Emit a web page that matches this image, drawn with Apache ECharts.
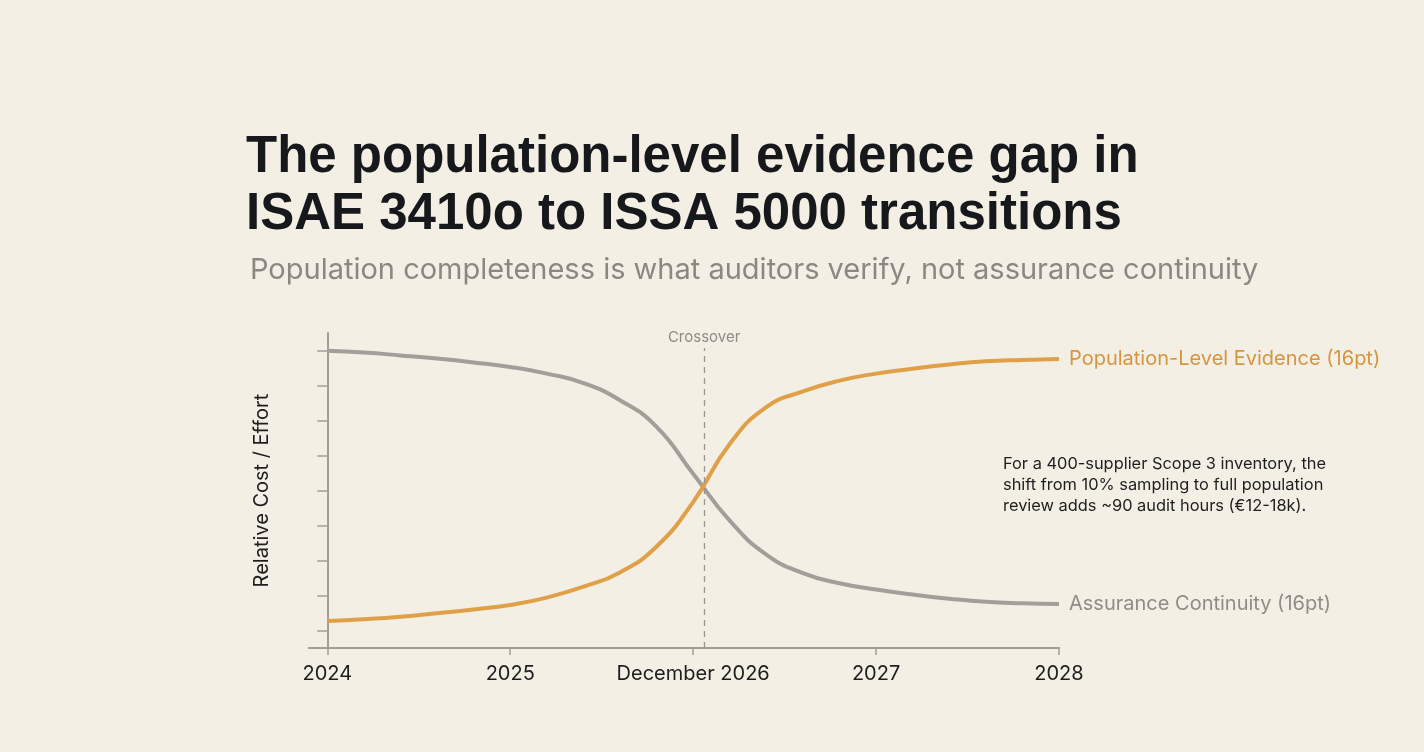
<!DOCTYPE html>
<html>
<head>
<meta charset="utf-8">
<script src="https://cdn.jsdelivr.net/npm/echarts@6/dist/echarts.min.js"></script>
<style>
  html, body { margin: 0; padding: 0; background: #f3efe5; }
  #chart { width: 1424px; height: 752px; }
</style>
</head>
<body>
<div id="chart"></div>
<script>
  // x positions in years since 2024 (0 = 2024, 4 = 2028)
  const xPositions = [0, 0.2, 0.4, 0.6, 0.8, 1, 1.2, 1.4, 1.6, 1.8, 2, 2.2, 2.4, 2.6, 2.8, 3, 3.2, 3.4, 3.6, 3.8, 4]
  const assuranceContinuity = [8.49, 8.44, 8.36, 8.27, 8.16, 8.03, 7.84, 7.57, 7.08, 6.32, 4.98, 3.64, 2.67, 2.14, 1.85, 1.67, 1.53, 1.41, 1.32, 1.28, 1.26]
  const populationEvidence = [0.77, 0.82, 0.89, 0.99, 1.1, 1.23, 1.44, 1.75, 2.16, 2.9, 4.17, 5.83, 6.88, 7.33, 7.64, 7.84, 7.98, 8.1, 8.19, 8.23, 8.26]
  const xTickValues = [0, 1, 2, 3, 4]
  const xTickLabels = ['2024', '2025', 'December 2026', '2027', '2028']
  const yTickValues = [0.5, 1.5, 2.5, 3.5, 4.5, 5.5, 6.5, 7.5, 8.5]
  const crossoverX = 2.06

  const ORANGE = '#e0a048'
  const GRAY = '#a29f9a'
  const AXIS = '#a09e99'

  const pairs = ys => xPositions.map((x, i) => [x, ys[i]])

  const chart = echarts.init(document.getElementById('chart'))
  chart.setOption({
    backgroundColor: '#f3efe5',
    animation: false,
    title: [{
      text: 'The population-level evidence gap in\nISAE 3410o to ISSA 5000 transitions',
      left: 241,
      top: 124,
      textStyle: {
        fontFamily: "'Liberation Sans', sans-serif",
        fontWeight: 'bold',
        fontSize: 51,
        lineHeight: 57,
        color: '#16181b'
      }
    }, {
      text: 'Population completeness is what auditors verify, not assurance continuity',
      left: 245,
      top: 251,
      textStyle: {
        fontFamily: 'Inter',
        fontWeight: 'normal',
        fontSize: 29,
        color: '#8b8884'
      }
    }],
    grid: {
      left: 309,
      right: 365,
      top: 333,
      bottom: 104
    },
    xAxis: {
      type: 'value',
      min: -0.1,
      max: 4,
      splitLine: { show: false },
      axisLine: { lineStyle: { color: AXIS, width: 2 } },
      axisTick: {
        show: true,
        customValues: xTickValues,
        length: 7,
        lineStyle: { color: AXIS, width: 1.5 }
      },
      axisLabel: {
        customValues: xTickValues,
        formatter: v => xTickLabels[xTickValues.indexOf(v)],
        margin: 16,
        fontFamily: 'Inter',
        fontSize: 20,
        color: '#1e1e1e'
      }
    },
    yAxis: {
      type: 'value',
      min: 0,
      max: 9,
      name: 'Relative Cost / Effort',
      nameLocation: 'middle',
      nameGap: 37,
      nameTextStyle: {
        fontFamily: 'Inter',
        fontSize: 20,
        color: '#1e1e1e'
      },
      splitLine: { show: false },
      axisLine: { show: true, lineStyle: { color: AXIS, width: 2 } },
      axisTick: {
        show: true,
        customValues: yTickValues,
        length: 10,
        lineStyle: { color: AXIS, width: 1.5 }
      },
      axisLabel: { show: false }
    },
    series: [{
      name: 'Assurance Continuity (16pt)',
      type: 'line',
      smooth: 0.5,
      showSymbol: false,
      data: pairs(assuranceContinuity),
      lineStyle: { color: GRAY, width: 4 },
      itemStyle: { color: GRAY },
      endLabel: {
        show: true,
        formatter: '{a}',
        distance: 10,
        fontFamily: 'Inter',
        fontSize: 20,
        color: '#8f8c88'
      },
      markLine: {
        silent: true,
        symbol: 'none',
        lineStyle: { color: '#9a9793', type: [6, 5], width: 1.3 },
        label: {
          show: true,
          position: 'end',
          formatter: 'Crossover',
          distance: 3,
          fontFamily: 'Inter',
          fontSize: 15,
          color: '#8f8c88'
        },
        data: [[{ coord: [crossoverX, 0] }, { coord: [crossoverX, 8.57] }]]
      },
      z: 2
    }, {
      name: 'Population-Level Evidence (16pt)',
      type: 'line',
      smooth: 0.5,
      showSymbol: false,
      data: pairs(populationEvidence),
      lineStyle: { color: ORANGE, width: 4 },
      itemStyle: { color: ORANGE },
      endLabel: {
        show: true,
        formatter: '{a}',
        distance: 10,
        fontFamily: 'Inter',
        fontSize: 20,
        color: '#d6953f'
      },
      z: 3
    }],
    graphic: [{
      type: 'text',
      left: 1003,
      top: 454,
      style: {
        text: 'For a 400-supplier Scope 3 inventory, the\nshift from 10% sampling to full population\nreview adds ~90 audit hours (€12-18k).',
        font: '16.4px Inter',
        lineHeight: 21,
        fill: '#1e1e1e'
      }
    }]
  })
</script>
</body>
</html>
